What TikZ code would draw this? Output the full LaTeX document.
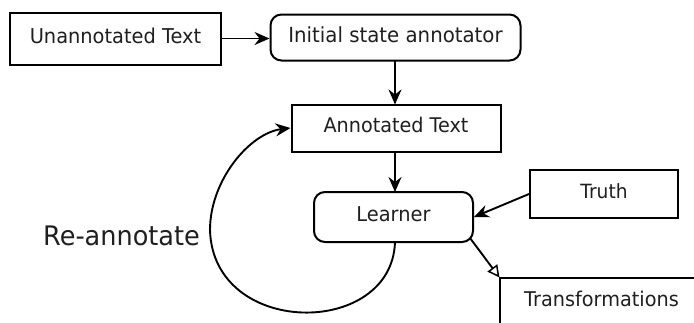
\documentclass[tikz,border=0pt]{standalone}
\usepackage{fontspec}
\setmainfont{DejaVu Sans}[FakeStretch=0.95]
\usetikzlibrary{arrows.meta}
\begin{document}
\begin{tikzpicture}[x=1pt,y=-1pt,
  box/.style={draw, line width=2pt, inner sep=0pt, text height=15pt, text depth=6pt,
    font=\fontsize{20.4}{22}\selectfont, text=black!88},
  rbox/.style={box, rounded corners=11pt},
  arr/.style={line width=1.9pt, -{Stealth[length=15pt,width=13pt,inset=5pt]}},
  oarr/.style={line width=1.9pt, -{Triangle[open,length=12pt,width=12pt,line width=1.5pt]}}]
\useasboundingbox (0,0) rectangle (694,322);
\node[box, minimum width=211pt, minimum height=52pt] (un) at (115.5,38.5) {Unannotated Text};
\node[rbox, minimum width=250pt, minimum height=46pt, font=\fontsize{20.8}{22}\selectfont] (isa) at (395.5,37.5) {Initial state annotator};
\node[box, minimum width=209pt, minimum height=47pt, font=\fontsize{20.2}{22}\selectfont] (at) at (396,128) {Annotated Text};
\node[rbox, minimum width=159pt, minimum height=50pt] (le) at (393.5,217) {Learner};
\node[box, minimum width=148pt, minimum height=48pt, font=\fontsize{19.6}{21}\selectfont] (tr) at (604,194) {Truth};
\coordinate (tfc) at (499.5,277.5);
\draw[line width=2pt] (720,277.5) -- (tfc) -- (499.5,340);
\node[box, draw=none, font=\fontsize{20.3}{22}\selectfont] (tf) at (601.5,302) {Transformations};
\node[font=\fontsize{26.9}{30}\selectfont, text=black!88] (re) at (121.5,236) {Re-annotate};
\draw[arr] (un.east) -- (un.east -| isa.west);
\draw[arr] (395,60.5) -- (395,104.5);
\draw[arr] (395,151.5) -- (395,192);
\draw[arr] (tr.west) -- (le.east);
\draw[oarr] (470,238) -- (tfc);
\draw[arr] (395,242) .. controls (392,338) and (213,338) .. (210,230) .. controls (210,180) and (250,133) .. (at.west);
\end{tikzpicture}
\end{document}
